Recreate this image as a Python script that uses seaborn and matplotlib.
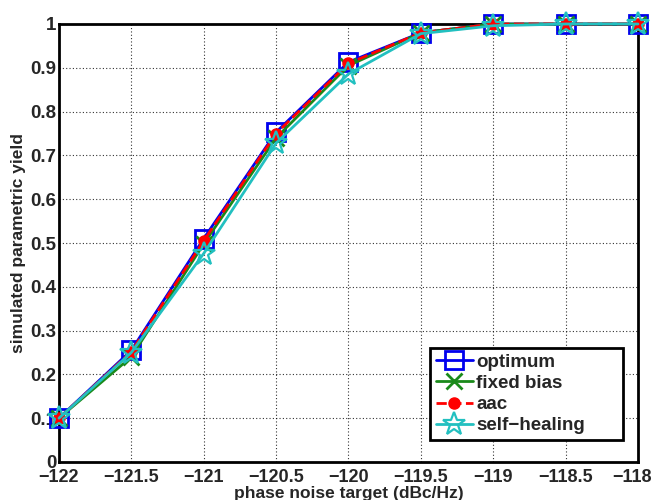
import numpy as np
import pandas as pd
import matplotlib
matplotlib.use("Agg")
import matplotlib.pyplot as plt
import matplotlib.transforms as mtransforms
import seaborn as sns

# ==============================
# data
# ==============================
target = [-122, -121.5, -121, -120.5, -120, -119.5, -119, -118.5, -118]
optimum = [0.10, 0.255, 0.510, 0.753, 0.913, 0.980, 1.0, 1.0, 1.0]
fixed_bias = [0.10, 0.240, 0.498, 0.740, 0.905, 0.980, 1.0, 1.0, 1.0]
aac = [0.10, 0.252, 0.505, 0.750, 0.910, 0.980, 1.0, 1.0, 1.0]
self_healing = [0.10, 0.250, 0.476, 0.728, 0.886, 0.978, 0.996, 1.0, 1.0]

series_names = ["optimum", "fixed bias", "aac", "self\u2212healing"]
df = pd.DataFrame({"target": target, "optimum": optimum, "fixed bias": fixed_bias,
                   "aac": aac, "self\u2212healing": self_healing})
long_df = df.melt(id_vars="target", var_name="method", value_name="yield")

# ==============================
# style
# ==============================
sns.set_style("white")
plt.rcParams["font.family"] = ["Liberation Sans", "DejaVu Sans"]
plt.rcParams["font.weight"] = "bold"
plt.rcParams["axes.unicode_minus"] = True

styles = {
    "optimum":       dict(color="#0000ee", marker="s", ms=13, mfc="none", mew=2.0, ls="-"),
    "fixed bias":    dict(color="#1a8a1a", marker="x", ms=11, mfc="none", mew=2.0, ls="-"),
    "aac":           dict(color="#ff0000", marker="o", ms=8, mfc="#ff0000", mew=1.0, ls="--"),
    "self\u2212healing": dict(color="#22c0c0", marker="*", ms=17, mfc="none", mew=1.6, ls="-"),
}

fig = plt.figure(figsize=(6.55, 5.0), dpi=100)
ax = fig.add_axes([0.090, 0.076, 0.884, 0.876])

for name in series_names:
    sub = long_df[long_df["method"] == name]
    st = styles[name]
    sns.lineplot(data=sub, x="target", y="yield", ax=ax, label=name,
                 color=st["color"], marker=st["marker"], markersize=st["ms"],
                 markerfacecolor=st["mfc"], markeredgecolor=st["color"],
                 markeredgewidth=st["mew"], linestyle=st["ls"], linewidth=2.0,
                 clip_on=False, zorder=3)

ax.set_xlim(-122, -118)
ax.set_ylim(0, 1)
ax.set_xticks(np.arange(-122, -117.9, 0.5))
ax.set_yticks(np.arange(0, 1.01, 0.1))
ax.set_xticklabels(["\u2212122", "\u2212121.5", "\u2212121", "\u2212120.5", "\u2212120",
                    "\u2212119.5", "\u2212119", "\u2212118.5", "\u2212118"])
ax.set_yticklabels(["0", "0.1", "0.2", "0.3", "0.4", "0.5", "0.6", "0.7", "0.8", "0.9", "1"])
ax.tick_params(axis="x", direction="in", length=5, width=1.5, labelsize=13, pad=5)
ax.tick_params(axis="y", direction="in", length=5, width=1.5, labelsize=13.5, pad=2)
for lab in ax.get_xticklabels() + ax.get_yticklabels():
    lab.set_fontweight("bold")

# last x label sits a little left so it stays inside the figure
last = ax.get_xticklabels()[-1]
last.set_transform(last.get_transform() +
                   mtransforms.ScaledTranslation(-6 / 100, 0, fig.dpi_scale_trans))

ax.grid(True, color="black", linestyle=(0, (1, 2)), linewidth=0.8, alpha=0.8)
for sp in ax.spines.values():
    sp.set_visible(True)
    sp.set_color("black")
    sp.set_linewidth(2.0)

ax.set_xlabel("phase noise target (dBc/Hz)", fontsize=12.5, fontweight="bold", labelpad=0)
ax.set_ylabel("simulated parametric yield", fontsize=12.5, fontweight="bold", labelpad=3)

leg = ax.legend(loc="lower left", bbox_to_anchor=(0.641, 0.05, 0.333, 0.217),
                mode="expand", borderaxespad=0,
                fontsize=13.5, frameon=True, fancybox=False, edgecolor="black",
                framealpha=1, handlelength=2.0, handletextpad=0.15, borderpad=0.3,
                labelspacing=0.22)
leg.get_frame().set_linewidth(2.0)
for t in leg.get_texts():
    t.set_fontweight("bold")

fig.savefig("out.png", dpi=100)
